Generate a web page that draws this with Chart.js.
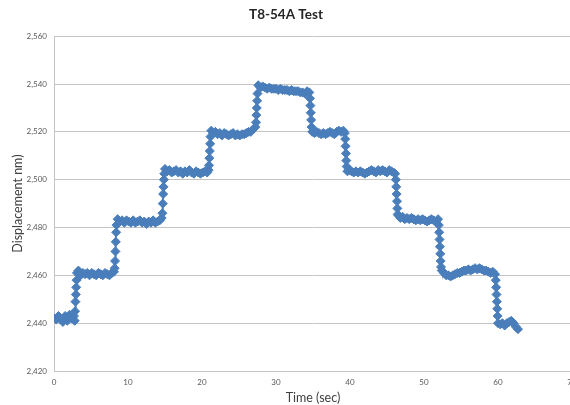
<!DOCTYPE html>
<html lang="en">
<head>
    <meta charset="UTF-8">
    <title>T8-54A Test</title>
    <script src="https://cdn.jsdelivr.net/npm/chart.js@4.4.1/dist/chart.umd.min.js"></script>
    <style>
        html, body { margin: 0; padding: 0; background: #fff; overflow: hidden; }
        .wrap { width: 590px; height: 405px; }
    </style>
</head>
<body>
    <div class="wrap">
        <canvas id="testChart" width="590" height="405"></canvas>
    </div>

    <script>
        // tempo (s) e deslocamento (nm)
        const timeSec = [
            0, 0.3, 0.6, 0.9, 1.2, 1.5, 1.8, 2.1, 2.4, 2.7,
            2.8, 2.85, 2.9, 2.95, 3.0, 3.05, 3.1,
            3.3, 3.6, 3.9, 4.2, 4.5, 4.8, 5.1, 5.4, 5.7, 6.0, 6.3, 6.6, 6.9, 7.2, 7.5, 7.8, 8.1,
            8.2, 8.25, 8.3, 8.35, 8.4, 8.45,
            8.6, 8.9, 9.2, 9.5, 9.8, 10.1, 10.4, 10.7, 11.0, 11.3, 11.6, 11.9, 12.2, 12.5, 12.8, 13.1, 13.4, 13.7, 14.0, 14.3, 14.55,
            14.65, 14.7, 14.75, 14.8, 14.85, 14.9,
            15.0, 15.3, 15.6, 15.9, 16.2, 16.5, 16.8, 17.1, 17.4, 17.7, 18.0, 18.3, 18.6, 18.9, 19.2, 19.5, 19.8, 20.1, 20.4, 20.7, 20.9,
            20.95, 21.0, 21.05, 21.1, 21.15,
            21.25, 21.5, 21.8, 22.1, 22.4, 22.7, 23.0, 23.3, 23.6, 23.9, 24.2, 24.5, 24.8, 25.1, 25.4, 25.7, 26.0, 26.3, 26.6, 26.9, 27.2,
            27.3, 27.35, 27.4, 27.45, 27.5,
            27.6, 27.9, 28.2, 28.5, 28.8, 29.1, 29.4, 29.7, 30.0, 30.3, 30.6, 30.9, 31.2, 31.5, 31.8, 32.1, 32.4, 32.7, 33.0, 33.3, 33.6, 33.9, 34.2, 34.5,
            34.6, 34.65, 34.7, 34.75, 34.8,
            34.9, 35.2, 35.5, 35.8, 36.1, 36.4, 36.7, 37.0, 37.3, 37.6, 37.9, 38.2, 38.5, 38.8, 39.1, 39.3,
            39.35, 39.4, 39.45, 39.5, 39.55,
            39.65, 39.9, 40.2, 40.5, 40.8, 41.1, 41.4, 41.7, 42.0, 42.3, 42.6, 42.9, 43.2, 43.5, 43.8, 44.1, 44.4, 44.7, 45.0, 45.3, 45.6, 45.9, 46.1,
            46.2, 46.25, 46.3, 46.35, 46.4, 46.45,
            46.55, 46.8, 47.1, 47.4, 47.7, 48.0, 48.3, 48.6, 48.9, 49.2, 49.5, 49.8, 50.1, 50.4, 50.7, 51.0, 51.3, 51.6, 51.9,
            52.0, 52.05, 52.1, 52.15, 52.2, 52.25, 52.3,
            52.4, 52.7, 53.0, 53.3, 53.6, 53.9, 54.2, 54.5, 54.8, 55.1, 55.4, 55.7, 56.0, 56.3, 56.6, 56.9, 57.2, 57.5, 57.8, 58.1, 58.4, 58.7, 59.0, 59.3, 59.6,
            59.7, 59.75, 59.8, 59.85, 59.9, 59.95,
            60.0, 60.3, 60.6, 60.9, 61.2, 61.5, 61.8, 62.1, 62.4, 62.7
        ];

        const displacementNm = [
            2442, 2441.5, 2443, 2442, 2440.5, 2443, 2441, 2443.5, 2442, 2443,
            2441, 2445, 2449, 2452, 2455, 2458, 2461,
            2462, 2460, 2461, 2460.5, 2461, 2460, 2461, 2460.5, 2460, 2461, 2460.5, 2460, 2461, 2460.5, 2460, 2461, 2461.5,
            2463, 2466, 2470, 2474, 2478, 2481,
            2483.5, 2482.5, 2483, 2482, 2483, 2482.5, 2482, 2483, 2482, 2482.5, 2483, 2482, 2482.5, 2481.5, 2482.5, 2482, 2483, 2482, 2482.5, 2483, 2484,
            2486, 2490, 2494, 2497, 2500, 2502.5,
            2504.5, 2503.5, 2504, 2503, 2503.5, 2504, 2503, 2503.5, 2502.5, 2503.5, 2503, 2504, 2503, 2502.5, 2503.5, 2503, 2502.5, 2503, 2503.5, 2503, 2504,
            2506, 2509, 2512, 2515, 2518,
            2520.5, 2519.5, 2520, 2519, 2519.5, 2518.5, 2519.5, 2519, 2518.5, 2519, 2519.5, 2518.5, 2519, 2518.5, 2519, 2519, 2519.5, 2520, 2520, 2521, 2522,
            2524, 2527, 2530, 2533, 2536,
            2539.5, 2538.5, 2539, 2538.5, 2538, 2538.5, 2538, 2538, 2538, 2537.5, 2538, 2537.5, 2537.5, 2537.5, 2537, 2537.5, 2537, 2537, 2537, 2536.5, 2536.5, 2536, 2537, 2536.5,
            2534, 2531, 2528, 2525, 2522,
            2520, 2519.5, 2520, 2519.5, 2519, 2519.5, 2519, 2519.5, 2520, 2519.5, 2519, 2520, 2520.5, 2520, 2520.5, 2519.5,
            2517, 2514, 2511, 2508, 2505.5,
            2503.5, 2504, 2503.5, 2503, 2503.5, 2503, 2503.5, 2503, 2502.5, 2503, 2503.5, 2504, 2503.5, 2503, 2504, 2503.5, 2504, 2503.5, 2503, 2504, 2503.5, 2503, 2502.5,
            2500, 2497, 2494, 2491, 2488, 2485.5,
            2485, 2484, 2484.5, 2483.5, 2484, 2483.5, 2484, 2483.5, 2483, 2483.5, 2483, 2483.5, 2483, 2482.5, 2483, 2483.5, 2483, 2482.5, 2483.5,
            2481, 2478, 2475, 2472, 2469, 2466, 2463.5,
            2462, 2461, 2460, 2460, 2459.5, 2460, 2460.5, 2461, 2461, 2461.5, 2462, 2462, 2462.5, 2462, 2462.5, 2463, 2462.5, 2463, 2462.5, 2462, 2462, 2461.5, 2461, 2461.5, 2460.5,
            2458, 2455, 2452, 2449, 2446, 2443,
            2440, 2439.5, 2440, 2439, 2440, 2440.5, 2441, 2440, 2438.5, 2437.5
        ];

        const chartTitle = 'T8-54A Test';
        const xTitle = 'Time (sec)';
        const yTitle = 'Displacement nm)';

        const azul = '#4a7ebb';
        const cinzaGrade = '#c4c4c4';
        const fonte = 'Lato, "Open Sans", sans-serif';

        const pontos = timeSec.map((t, i) => ({ x: t, y: displacementNm[i] }));

        new Chart(document.getElementById('testChart'), {
            type: 'line',
            data: {
                datasets: [{
                    label: chartTitle,
                    data: pontos,
                    borderColor: azul,
                    borderWidth: 2,
                    backgroundColor: azul,
                    pointStyle: 'rectRot',
                    pointRadius: 4.5,
                    pointBorderWidth: 1,
                    pointBorderColor: azul,
                    pointBackgroundColor: azul,
                    tension: 0
                }]
            },
            options: {
                responsive: false,
                animation: false,
                layout: { padding: { left: 0, right: 18, top: 0, bottom: 0 } },
                plugins: {
                    legend: { display: false },
                    tooltip: { enabled: false },
                    title: {
                        display: true,
                        text: chartTitle,
                        color: '#262626',
                        font: { family: fonte, size: 13.5, weight: 'bold' },
                        padding: { top: 7, bottom: 13 }
                    }
                },
                scales: {
                    x: {
                        type: 'linear',
                        min: 0,
                        max: 70,
                        afterFit: function(scale) { scale.height = 34; },
                        ticks: {
                            stepSize: 10,
                            color: '#595959',
                            font: { family: fonte, size: 8 },
                            padding: 7,
                            maxRotation: 0
                        },
                        grid: { display: false, drawTicks: false },
                        border: { display: true, color: cinzaGrade, width: 1 },
                        title: {
                            display: true,
                            text: xTitle,
                            color: '#404040',
                            font: { family: fonte, size: 12.5 },
                            padding: { top: 0, bottom: 0 }
                        }
                    },
                    y: {
                        min: 2420,
                        max: 2560,
                        afterFit: function(scale) { scale.width = 54; },
                        ticks: {
                            stepSize: 20,
                            color: '#595959',
                            font: { family: fonte, size: 8 },
                            padding: 7
                        },
                        grid: { color: cinzaGrade, lineWidth: 1, drawTicks: false },
                        border: { display: true, color: cinzaGrade, width: 1 },
                        title: {
                            display: true,
                            text: yTitle,
                            color: '#404040',
                            font: { family: fonte, size: 12.5 },
                            padding: { top: 10, bottom: 4 }
                        }
                    }
                }
            }
        });
    </script>
</body>
</html>
